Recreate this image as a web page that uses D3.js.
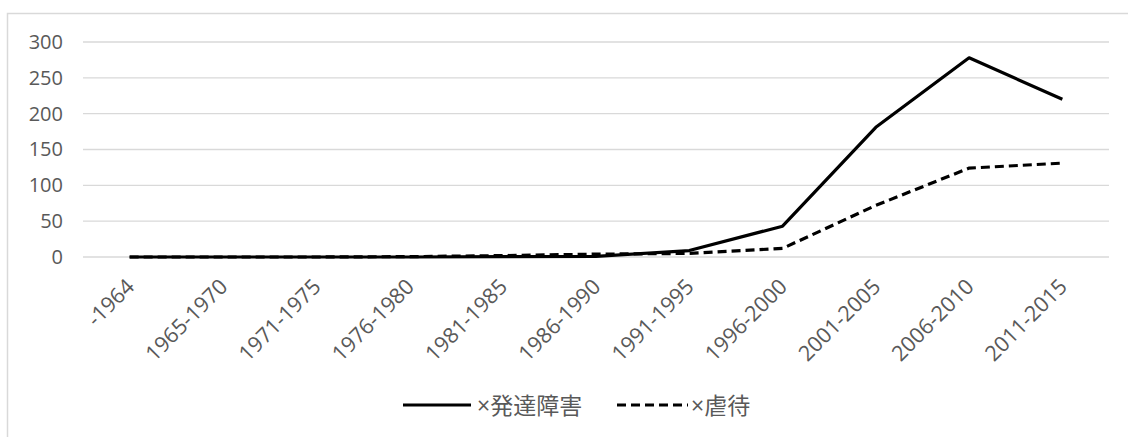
<!DOCTYPE html>
<html><head><meta charset="utf-8">
<script src="https://cdn.jsdelivr.net/npm/d3@7"></script>
<style>
html,body{margin:0;padding:0;background:#fff;}
svg{display:block;}
</style></head>
<body>
<svg id="chart" width="1128" height="437"></svg>
<script>
const categories = ["-1964","1965-1970","1971-1975","1976-1980","1981-1985","1986-1990","1991-1995","1996-2000","2001-2005","2006-2010","2011-2015"];
const seriesNames = ["×発達障害","×虐待"];
const hattatsu = [0,0,0,0,0.5,1,9,43,181,278,220];
const gyakutai = [0,0,0,0.5,2,4,5,12,72,124,131];
const yTicks = [0,50,100,150,200,250,300];

(function(){
const svg = d3.select("#chart");
const W = 1128, H = 437;
const pLeft = 83, pRight = 1109, pTop = 42, pBottom = 257;
const font = "'Open Sans', 'Noto Sans CJK JP', sans-serif";
const txt = "#595959";

// outer border
svg.append("path").attr("d", `M7.5,${H} V13.5 H${W}`).attr("fill","none").attr("stroke","#d9d9d9").attr("stroke-width",1.5);

const x = d3.scaleBand().domain(categories).range([pLeft, pRight]);
const y = d3.scaleLinear().domain([0,300]).range([pBottom, pTop]);

// gridlines
svg.append("g").selectAll("line").data(yTicks).join("line")
  .attr("x1", pLeft).attr("x2", pRight)
  .attr("y1", d=>y(d)).attr("y2", d=>y(d))
  .attr("stroke","#d9d9d9").attr("stroke-width",1.3);

// y axis
const yAxis = d3.axisLeft(y).tickValues(yTicks).tickSize(0).tickPadding(20);
const gy = svg.append("g").attr("transform",`translate(${pLeft},0)`).call(yAxis);
gy.select(".domain").remove();
gy.selectAll("text").attr("fill",txt).style("font-family",font).style("font-size","20px");

// x axis
const xAxis = d3.axisBottom(x).tickSize(0).tickPadding(0);
const gx = svg.append("g").attr("transform",`translate(0,${pBottom})`).call(xAxis);
gx.select(".domain").remove();
gx.selectAll("text")
  .attr("fill",txt).style("font-family",font).style("font-size","21.5px")
  .attr("text-anchor","end").attr("dy",null).attr("y",null)
  .attr("transform","translate(0,25) rotate(-45)")
  .attr("dominant-baseline","central");

const cx = d => x(d) + x.bandwidth()/2;
const line = d3.line().x((d,i)=>cx(categories[i])).y(d=>y(d));

svg.append("path").datum(gyakutai).attr("d",line).attr("fill","none")
  .attr("stroke","#000").attr("stroke-width",3.2).attr("stroke-dasharray","9,5");
svg.append("path").datum(hattatsu).attr("d",line).attr("fill","none")
  .attr("stroke","#000").attr("stroke-width",3.2).attr("stroke-linejoin","round");

// legend
const lg = svg.append("g");
const legendItems = [
  {name: seriesNames[0], x0: 403, x1: 471, dash: null, tx: 477},
  {name: seriesNames[1], x0: 617, x1: 688, dash: "9,5", tx: 691}
];
legendItems.forEach(it=>{
  lg.append("line").attr("x1",it.x0).attr("x2",it.x1).attr("y1",405).attr("y2",405)
    .attr("stroke","#000").attr("stroke-width",3.2).attr("stroke-dasharray",it.dash);
  lg.append("text").attr("x",it.tx).attr("y",405).attr("dominant-baseline","central")
    .attr("fill",txt).style("font-family",font).style("font-size","23px").text(it.name);
});
})();
</script>
</body></html>
